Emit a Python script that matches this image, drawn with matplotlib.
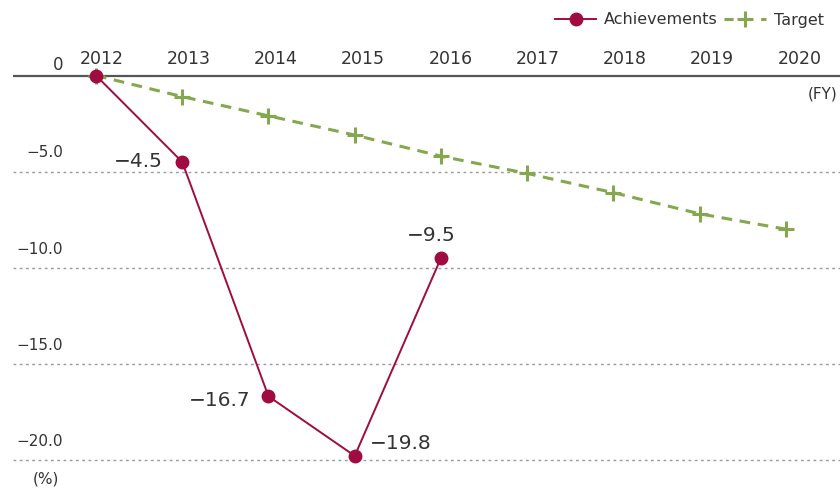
import matplotlib
matplotlib.use("Agg")
import matplotlib.pyplot as plt
from matplotlib.lines import Line2D

plt.rcParams['font.family'] = ['DejaVu Sans']

years = ['2012', '2013', '2014', '2015', '2016', '2017', '2018', '2019', '2020']
achievements = [0.0, -4.5, -16.7, -19.8, -9.5]
ach_labels = ['', '\u22124.5', '\u221216.7', '\u221219.8', '\u22129.5']
target = [0.0, -1.1, -2.1, -3.1, -4.2, -5.1, -6.1, -7.2, -8.0]
yticks = [-5.0, -10.0, -15.0, -20.0]

RED = '#a00c3f'
GREEN = '#84a84e'
TXT = '#333333'

W, H = 840, 492
fig = plt.figure(figsize=(W / 100, H / 100), dpi=100)
ax = fig.add_axes([13 / W, 0, (W - 13) / W, 1])
ax.set_xlim(-0.962, 8.626)
ax.set_ylim(-21.68, 3.93)
ax.axis('off')

# zero axis line and dotted gridlines
ax.axhline(0, color='#555555', lw=1.6, zorder=1)
for v in yticks:
    ax.axhline(v, color='#9a9a9a', lw=1.0, ls=(0, (2, 2.5)), zorder=1)
    ax.annotate(f'\u2212{abs(v):.1f}', (-0.962, v), xycoords='data',
                xytext=(36, 8), textcoords='offset points',
                ha='right', va='bottom', fontsize=11, color=TXT,
                annotation_clip=False)
ax.annotate('0', (-0.962, 0), xytext=(36, 1), textcoords='offset points',
            ha='right', va='bottom', fontsize=12, color=TXT, annotation_clip=False)
ax.annotate('(%)', (-0.962, -20), xytext=(24, -14), textcoords='offset points',
            ha='center', va='center', fontsize=11, color=TXT, annotation_clip=False)
ax.annotate('(FY)', (8.626, 0), xytext=(-2, -8), textcoords='offset points',
            ha='right', va='top', fontsize=11, color=TXT, annotation_clip=False)

# year labels
for i, y in enumerate(years):
    ax.annotate(y, (i, 0), xytext=(4 + 0.7 * i, 12), textcoords='offset points',
                ha='center', va='center', fontsize=12.5, color=TXT,
                annotation_clip=False)

# target line
ax.plot(range(len(target)), target, color=GREEN, lw=2.2, ls=(0, (3.5, 2.5)),
        marker='+', markersize=12, markeredgewidth=2.2, zorder=2)

# achievements line
xa = list(range(len(achievements)))
ax.plot(xa, achievements, color=RED, lw=1.4, marker='o', markersize=10,
        markeredgewidth=0, zorder=3)

offsets = [None, (-14, 0, 'right', 'center'), (-13, -3, 'right', 'center'),
           (11, 9, 'left', 'center'), (-7, 16, 'center', 'center')]
for i, (v, lab) in enumerate(zip(achievements, ach_labels)):
    if not lab:
        continue
    dx, dy, ha, va = offsets[i]
    ax.annotate(lab, (i, v), xytext=(dx, dy), textcoords='offset points',
                ha=ha, va=va, fontsize=14.5, color=TXT)

# legend
h1 = Line2D([], [], color=RED, lw=1.4, marker='o', markersize=10, markeredgewidth=0)
h2 = Line2D([], [], color=GREEN, lw=2.2, ls=(0, (3, 3)), marker='+',
            markersize=12, markeredgewidth=2.2)
fig.legend([h1, h2], ['Achievements', 'Target'], loc='center right',
           bbox_to_anchor=(824 / W, 1 - 20 / H), ncol=2, frameon=False,
           fontsize=11.5, handlelength=2.6, handletextpad=0.5,
           columnspacing=0.4, labelcolor=TXT, borderaxespad=0, borderpad=0)

fig.savefig('out.png', dpi=100)
